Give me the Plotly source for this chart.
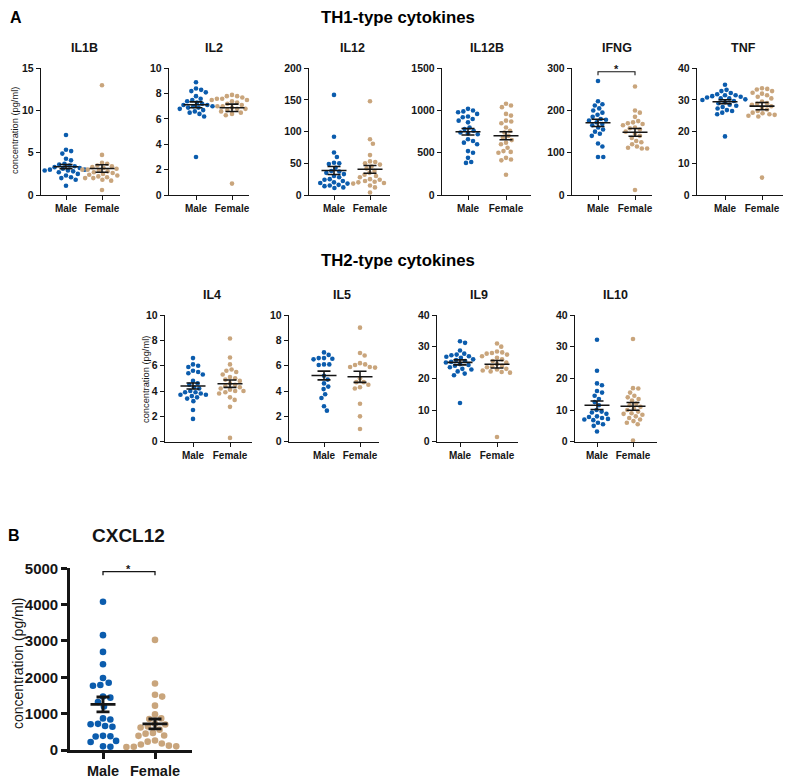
import numpy as np
import plotly.graph_objects as go

# the page body keeps its default 8px margin, so the figure is drawn 8px smaller
# and every pixel position below is measured on the 796x780 page
OFF = 8
W, H = 796 - OFF, 780 - OFF

groups = ["Male", "Female"]

# values (concentration, pg/ml)
il1b_male = [7.1, 5.35, 5.2, 4.9, 4.3, 4.1, 3.7, 3.6, 3.5, 3.4, 3.3, 3.2, 3.1, 3.0, 3.0,
             2.9, 2.9, 2.8, 2.7, 2.5, 2.3, 2.1, 2.0, 1.8, 1.1]
il1b_female = [13.0, 4.75, 3.8, 3.7, 3.5, 3.4, 3.3, 3.2, 3.1, 3.0, 3.0, 2.9, 2.8, 2.7, 2.6,
               2.5, 2.4, 2.3, 2.2, 2.1, 2.0, 2.0, 1.8, 1.7, 0.6]
il2_male = [8.9, 8.4, 8.3, 8.2, 8.1, 7.8, 7.6, 7.5, 7.4, 7.3, 7.2, 7.1, 7.1, 7.0, 7.0,
            6.9, 6.9, 6.8, 6.7, 6.6, 6.5, 6.4, 6.2, 3.0]
il2_female = [7.9, 7.8, 7.8, 7.7, 7.6, 7.6, 7.5, 7.5, 7.4, 7.3, 7.2, 7.1, 7.0, 7.0, 6.9,
              6.8, 6.8, 6.7, 6.6, 6.5, 6.4, 6.3, 0.9]
il12_male = [158, 92, 67, 60, 51, 50, 49, 43, 37, 38, 35, 33, 30, 28, 25, 24, 22, 20, 19,
             18, 16, 15, 14, 12, 11]
il12_female = [148, 88, 81, 63, 53, 52, 50, 48, 45, 42, 38, 35, 32, 30, 28, 25, 24, 22,
               21, 20, 19, 18, 15, 12, 4]
il12b_male = [1020, 1000, 990, 980, 960, 930, 920, 900, 880, 860, 800, 780, 760, 740, 730,
              720, 660, 640, 620, 600, 520, 500, 440, 390, 380]
il12b_female = [1080, 1060, 1040, 960, 940, 880, 870, 850, 800, 760, 740, 700, 680, 650,
                620, 600, 560, 520, 510, 500, 440, 420, 410, 240]
ifng_male = [270, 222, 215, 212, 205, 200, 195, 190, 185, 180, 178, 176, 172, 168, 165,
             160, 155, 150, 145, 140, 122, 115, 90, 90]
ifng_female = [257, 200, 195, 185, 175, 172, 170, 168, 165, 160, 158, 155, 150, 145, 140,
               135, 128, 125, 120, 115, 112, 110, 110, 12]
tnf_male = [34.8, 33.2, 32.8, 32.2, 31.8, 31.5, 31.5, 31.2, 31.0, 30.8, 30.5, 30.5, 30.2,
            30.0, 29.7, 29.3, 29.0, 28.5, 28.2, 27.8, 27.3, 26.8, 26.5, 26.0, 25.5, 18.5]
tnf_female = [33.7, 33.5, 33.3, 32.8, 32.3, 32.0, 31.5, 31.0, 30.5, 29.5, 29.0, 28.8, 28.5,
              28.0, 27.5, 27.0, 26.5, 26.0, 25.8, 25.5, 25.3, 25.0, 24.8, 5.5]
il4_male = [6.6, 6.1, 6.0, 5.9, 5.6, 5.5, 5.4, 5.3, 4.8, 4.6, 4.5, 4.3, 4.2, 4.0, 3.9, 3.9,
            3.8, 3.7, 3.7, 3.6, 3.5, 3.4, 3.2, 2.5, 1.8]
il4_female = [8.15, 6.65, 6.1, 5.7, 5.6, 5.5, 5.3, 5.1, 5.0, 4.9, 4.8, 4.6, 4.5, 4.4, 4.3,
              4.2, 4.1, 4.0, 4.0, 3.9, 3.8, 3.5, 3.3, 2.75, 0.3]
il5_male = [7.05, 6.85, 6.6, 6.6, 6.55, 6.5, 6.1, 6.1, 6.05, 5.2, 4.9, 4.6, 4.35, 4.15,
            3.75, 3.45, 2.8, 2.45]
il5_female = [9.0, 7.0, 6.8, 6.2, 6.1, 6.05, 5.9, 5.9, 5.85, 5.0, 4.7, 4.7, 4.5, 4.3, 4.2,
              3.0, 2.0, 1.0]
il9_male = [31.7, 31.2, 28.8, 27.8, 27.5, 27.3, 27.0, 26.8, 26.5, 26.0, 25.8, 25.5, 25.2,
            25.0, 24.5, 24.2, 24.0, 23.5, 23.0, 22.8, 22.2, 21.5, 21.0, 12.2]
il9_female = [31.0, 30.0, 28.5, 28.2, 28.0, 27.8, 27.5, 27.0, 26.5, 26.0, 25.5, 25.0, 24.5,
              24.0, 23.8, 23.5, 23.0, 22.8, 22.5, 22.2, 22.0, 21.8, 1.5]
il10_male = [32.2, 22.4, 18.4, 17.8, 16.0, 15.5, 14.5, 13.5, 12.5, 11.5, 10.0, 9.5, 9.2,
             8.8, 8.0, 7.8, 7.5, 7.2, 7.0, 6.8, 6.0, 5.5, 5.0, 3.2]
il10_female = [32.4, 16.9, 16.8, 15.5, 14.5, 14.0, 13.5, 13.0, 12.0, 11.5, 11.0, 10.5, 10.0,
               9.5, 9.0, 8.8, 8.5, 8.0, 7.5, 7.0, 6.5, 6.0, 5.5, 0.4]
cxcl12_male = [4080, 3160, 2700, 2360, 1980, 1850, 1790, 1770, 1470, 1440, 1320, 1200, 870,
               840, 720, 710, 660, 640, 390, 380, 370, 250, 220, 100, 90]
cxcl12_female = [3030, 1830, 1520, 1470, 1220, 980, 870, 850, 720, 700, 650, 620, 560, 470,
                 450, 400, 390, 260, 230, 180, 150, 120, 100, 90, 80]

BLUE = "#0b5cad"
TAN = "#c9a57c"
INK = "#151515"
FONT = "Arial, Liberation Sans, sans-serif"

# name, male, female, ymax, dtick, pixel box: x0, x1, male x, female x, y top, y bottom
panels = [
    ("IL1B", il1b_male, il1b_female, 15, 5, 41, 120, 66, 102, 68.3, 195),
    ("IL2", il2_male, il2_female, 10, 2, 169, 249, 196, 232, 68.3, 195),
    ("IL12", il12_male, il12_female, 200, 50, 309, 390, 334, 370, 68.3, 195),
    ("IL12B", il12b_male, il12b_female, 1500, 500, 442, 531, 468, 506, 68.3, 195),
    ("IFNG", ifng_male, ifng_female, 300, 100, 572, 652, 598, 635, 68.3, 195),
    ("TNF", tnf_male, tnf_female, 40, 10, 697, 783, 725, 762, 68.3, 195),
    ("IL4", il4_male, il4_female, 10, 2, 165, 252, 193, 230, 315, 441.7),
    ("IL5", il5_male, il5_female, 10, 2, 289, 379, 324, 360, 315, 441.7),
    ("IL9", il9_male, il9_female, 40, 10, 437, 518, 460, 497, 315, 441.7),
    ("IL10", il10_male, il10_female, 40, 10, 575, 657, 597, 633, 315, 441.7),
    ("CXCL12", cxcl12_male, cxcl12_female, 5000, 1000, 70, 192, 103, 155, 568.3, 750),
]
significant = {"IFNG", "CXCL12"}


def px(x):
    return (x - OFF) / W


def py(y):
    return 1 - (y - OFF) / H


def swarm(vals, scale, d):
    # simple beeswarm: horizontal pixel offsets so dots of diameter d don't overlap
    y = np.asarray(vals, dtype=float) * scale
    order = np.argsort(-y, kind="stable")
    xs = np.zeros(len(y))
    placed = []
    for i in order:
        cands = [0.0]
        for j in placed:
            dy = y[i] - y[j]
            if abs(dy) < d:
                dx = np.sqrt(d * d - dy * dy)
                cands += [xs[j] + dx, xs[j] - dx]
        cands.sort(key=abs)
        for c in cands:
            if all((c - xs[j]) ** 2 + (y[i] - y[j]) ** 2 >= d * d - 1e-6 for j in placed):
                xs[i] = c
                break
        placed.append(i)
    return xs


fig = go.Figure()
annotations = []
shapes = []

for k, (name, male, female, ymax, dtick, x0, x1, mx, fx, yt, yb) in enumerate(panels, start=1):
    big = name == "CXCL12"
    xa = "x" if k == 1 else "x%d" % k
    ya = "y" if k == 1 else "y%d" % k
    unit = fx - mx
    scale = (yb - yt) / ymax
    msize = 6.6 if big else 4.6
    lw = 2.6 if big else 1.4

    for g, (vals, col) in enumerate([(male, BLUE), (female, TAN)]):
        off = swarm(vals, scale, 7.4 if big else 5.3)
        fig.add_trace(go.Scatter(
            x=g + off / unit, y=vals, mode="markers", xaxis=xa, yaxis=ya,
            marker=dict(color=col, size=msize, line=dict(width=0)),
            cliponaxis=False, showlegend=False, hoverinfo="y"))

    # mean with SEM
    hw = 12.5 / unit
    cw = 6.5 / unit
    lx, ly = [], []
    for g, vals in enumerate([male, female]):
        v = np.asarray(vals, dtype=float)
        m = v.mean()
        s = v.std(ddof=1) / np.sqrt(len(v))
        lx += [g - hw, g + hw, None, g, g, None, g - cw, g + cw, None, g - cw, g + cw, None]
        ly += [m, m, None, m - s, m + s, None, m + s, m + s, None, m - s, m - s, None]
    fig.add_trace(go.Scatter(x=lx, y=ly, mode="lines", xaxis=xa, yaxis=ya,
                             line=dict(color=INK, width=lw * 1.1), cliponaxis=False,
                             showlegend=False, hoverinfo="skip"))

    fig.update_layout({
        ("xaxis" if k == 1 else "xaxis%d" % k): dict(
            domain=[px(x0), px(x1)], anchor=ya, automargin=False,
            range=[(x0 - mx) / unit, (x1 - mx) / unit],
            tickvals=[0, 1], ticktext=groups, showgrid=False, zeroline=False,
            showline=True, linecolor=INK, linewidth=lw, ticks="outside",
            ticklen=6 if big else 4, tickwidth=lw, tickcolor=INK,
            tickfont=dict(family=FONT, size=14.5 if big else 10, color=INK,
                          weight="bold")),
        ("yaxis" if k == 1 else "yaxis%d" % k): dict(
            domain=[py(yb), py(yt)], anchor=xa, automargin=False,
            range=[0, ymax], dtick=dtick,
            tickformat="d", showgrid=False, zeroline=False, showline=True,
            linecolor=INK, linewidth=lw, ticks="outside", ticklen=6 if big else 4,
            tickwidth=lw, tickcolor=INK,
            tickfont=dict(family=FONT, size=15 if big else 10.5, color=INK,
                          weight="bold")),
    })

    annotations.append(dict(
        text="<b>%s</b>" % name, x=px((mx + fx) / 2),
        y=py(535 if big else (48 if yt < 100 else 295)),
        xref="paper", yref="paper", showarrow=False, xanchor="center", yanchor="middle",
        font=dict(family=FONT, size=19 if big else 12.5, color=INK)))

    if name in significant:
        top = ymax * (1 - 3.4 / (yb - yt))
        foot = ymax * (1 - 7.0 / (yb - yt))
        shapes.append(dict(type="path", xref=xa, yref=ya,
                           path="M0,%g L0,%g L1,%g L1,%g" % (foot, top, top, foot),
                           line=dict(color=INK, width=1.1 if not big else 1.3)))
        annotations.append(dict(text="<b>*</b>", x=px((mx + fx) / 2), y=py(yt + 1),
                                xref="paper", yref="paper", showarrow=False,
                                xanchor="center", yanchor="middle",
                                font=dict(family=FONT, size=11, color=INK)))

# headings and axis titles
heads = [
    ("<b>A</b>", 16, 17, 16), ("<b>TH1-type cytokines</b>", 398, 17, 16.8),
    ("<b>TH2-type cytokines</b>", 398, 260, 16.8), ("<b>B</b>", 14, 535, 16),
]
for txt, x, y, sz in heads:
    annotations.append(dict(text=txt, x=px(x), y=py(y), xref="paper", yref="paper",
                            showarrow=False, xanchor="center", yanchor="middle",
                            font=dict(family=FONT, size=sz, color="#000000")))

for x, y, sz in [(15, 131, 9.3), (146, 380, 9.3), (18, 663, 14)]:
    annotations.append(dict(text="concentration (pg/ml)", x=px(x), y=py(y),
                            xref="paper", yref="paper", showarrow=False, textangle=-90,
                            xanchor="center", yanchor="middle",
                            font=dict(family=FONT, size=sz, color=INK)))

fig.update_layout(
    template="none",
    width=W, height=H, margin=dict(l=0, r=0, t=0, b=0, autoexpand=False),
    paper_bgcolor="white", plot_bgcolor="white",
    annotations=annotations, shapes=shapes, showlegend=False,
)

fig.write_html("out.html")
